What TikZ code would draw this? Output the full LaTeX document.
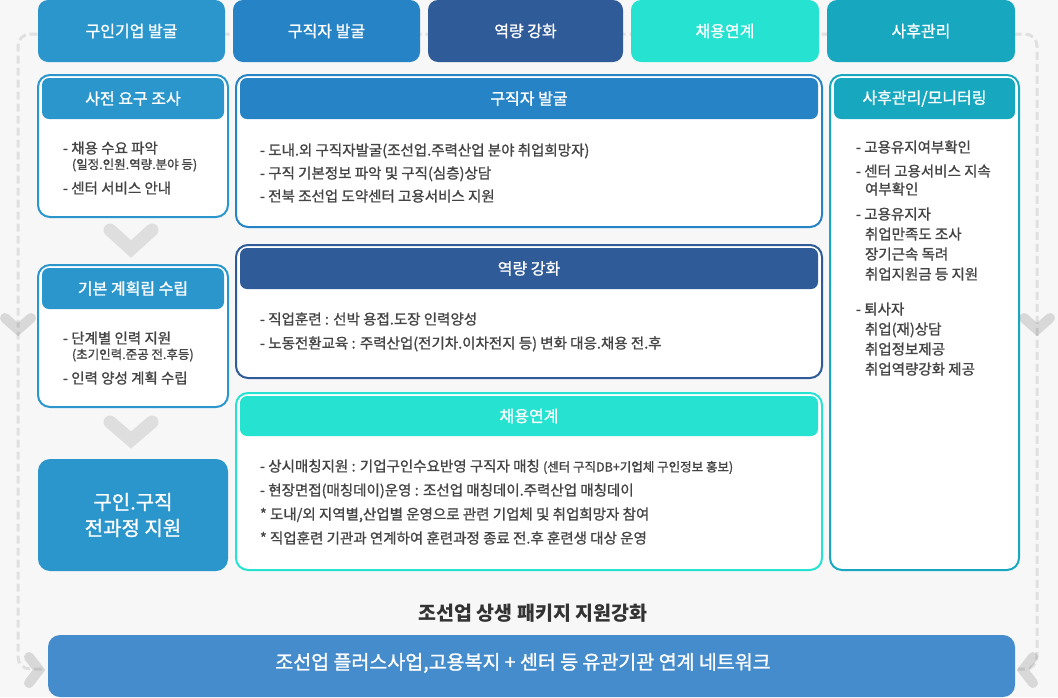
\documentclass[tikz,border=0pt]{standalone}
\usepackage{fontspec}
\setmainfont{Noto Sans CJK KR}
\newfontfamily\kr[FakeBold=1.2]{Noto Sans CJK KR}
\newfontfamily\krw{Noto Sans CJK KR}
\definecolor{cA}{HTML}{2A96CC}
\definecolor{cB}{HTML}{2683C6}
\definecolor{cC}{HTML}{2F5B98}
\definecolor{cD}{HTML}{26E2D0}
\definecolor{cE}{HTML}{17A8BF}
\definecolor{barblue}{HTML}{458CCC}
\definecolor{bgc}{HTML}{F7F7F7}
\definecolor{txtgray}{HTML}{444444}
\definecolor{ttl}{HTML}{333333}
\definecolor{chevgray}{HTML}{DEDEDE}
\tikzset{
  tophead/.style={fill=#1, rounded corners=10pt, inner sep=0pt, outer sep=0pt, text=white,
    font=\kr\fontsize{16}{19}\selectfont, minimum height=62pt},
  card/.style={draw=#1, line width=2pt, fill=white, rounded corners=12pt, inner sep=0pt, outer sep=0pt},
  cardhead/.style={fill=#1, rounded corners=7pt, inner sep=0pt, outer sep=0pt, text=white,
    font=\kr\fontsize{16}{19}\selectfont},
  ln/.style={anchor=west, inner sep=0pt, outer sep=0pt, text=txtgray,
    font=\kr\fontsize{14.5}{17}\selectfont, text height=11pt, text depth=0pt},
  subln/.style={ln, font=\kr\fontsize{12.5}{15}\selectfont, text height=10pt},
  chev/.style={draw=chevgray, line width=13pt, line cap=round, line join=miter},
  sidechev/.style={draw=black, draw opacity=0.12, line width=10pt, line cap=round, line join=miter},
  dashline/.style={draw=black, draw opacity=0.09, line width=3pt, dash pattern=on 8pt off 4pt, rounded corners=12pt},
}
\begin{document}
\begin{tikzpicture}[x=1pt,y=-1pt]
\useasboundingbox (0,0) rectangle (1058,697);
\fill[bgc] (0,0) rectangle (1058,697);

% dashed loop
\draw[dashline] (42,669) -- (18,669) -- (18,34) -- (1037,34) -- (1037,669) -- (1018,669);

% side chevrons
\draw[sidechev] (5,318) -- (18,329.5) -- (31,318);
\draw[sidechev] (1024,318) -- (1037,329.5) -- (1050,318);
\draw[sidechev] (29,657) -- (39,670) -- (29,683);
\draw[sidechev] (1033,657) -- (1023,670) -- (1033,683);

% top headers
\node[tophead=cA, minimum width=187pt] (h1) at (131.5,31) {구인기업 발굴};
\node[tophead=cB, minimum width=187pt] (h2) at (326.5,31) {구직자 발굴};
\node[tophead=cC, minimum width=195pt] (h3) at (525.5,31) {역량 강화};
\node[tophead=cD, minimum width=188pt] (h4) at (725,31) {채용연계};
\node[tophead=cE, minimum width=188pt] (h5) at (921,31) {사후관리};

% left column
\node[card=cA, minimum width=190pt, minimum height=142pt] (A) at (133,146) {};
\node[cardhead=cA, minimum width=182pt, minimum height=41pt] (Ah) at (133,98.5) {사전 요구 조사};
\node[ln] (A1) at (63,148) {- 채용 수요 파악};
\node[subln] (A2) at (72,164) {(일정.인원.역량.분야 등)};
\node[ln] (A3) at (63,188) {- 센터 서비스 안내};

\draw[chev] (110,230) -- (131,249) -- (152,230);

\node[card=cA, minimum width=190pt, minimum height=142pt] (B) at (133,336) {};
\node[cardhead=cA, minimum width=182pt, minimum height=41pt] (Bh) at (133,288.5) {기본 계획립 수립};
\node[ln] (B1) at (63,338) {- 단계별 인력 지원};
\node[subln] (B2) at (72,354) {(초기인력.준공 전.후등)};
\node[ln] (B3) at (63,378) {- 인력 양성 계획 수립};

\draw[chev] (110,422) -- (131,440) -- (152,422);

\node[fill=cA, rounded corners=12pt, minimum width=190pt, minimum height=112pt, inner sep=0pt,
  text=white, align=center, font=\kr\fontsize{20}{26}\selectfont] (C) at (133,515) {구인.구직\\전과정 지원};

% middle column
\node[card=cB, minimum width=586pt, minimum height=152pt] (M1) at (529,151) {};
\node[cardhead=cB, minimum width=578pt, minimum height=41pt] (M1h) at (529,98.5) {구직자 발굴};
\node[ln] (M1a) at (260,150) {- 도내.외 구직자발굴(조선업.주력산업 분야 취업희망자)};
\node[ln] (M1b) at (260,173) {- 구직 기본정보 파악 및 구직(심층)상담};
\node[ln] (M1c) at (260,196) {- 전북 조선업 도약센터 고용서비스 지원};

\node[card=cC, minimum width=586pt, minimum height=133pt] (M2) at (529,311.5) {};
\node[cardhead=cC, minimum width=578pt, minimum height=41pt] (M2h) at (529,268.5) {역량 강화};
\node[ln] (M2a) at (260,319) {- 직업훈련 : 선박 용접.도장 인력양성};
\node[ln] (M2b) at (260,343) {- 노동전환교육 : 주력산업(전기차.이차전지 등) 변화 대응.채용 전.후};

\node[card=cD, minimum width=586pt, minimum height=177pt] (M3) at (529,481.5) {};
\node[cardhead=cD, minimum width=578pt, minimum height=40pt] (M3h) at (529,416) {채용연계};
\node[ln] (M3a) at (260,466) {- 상시매칭지원 : 기업구인수요반영 구직자 매칭 {\fontsize{12.5}{15}\selectfont (센터 구직DB+기업체 구인정보 홍보)}};
\node[ln] (M3b) at (260,490) {- 현장면접(매칭데이)운영 : 조선업 매칭데이.주력산업 매칭데이};
\node[ln] (M3c) at (260,514) {* 도내/외 지역별,산업별 운영으로 관련 기업체 및 취업희망자 참여};
\node[ln] (M3d) at (260,538) {* 직업훈련 기관과 연계하여 훈련과정 종료 전.후 훈련생 대상 운영};

% right column
\node[card=cE, minimum width=189pt, minimum height=495pt] (R) at (924.5,322.5) {};
\node[cardhead=cE, minimum width=181pt, minimum height=41pt] (Rh) at (924.5,98.5) {사후관리/모니터링};
\node[ln] (R1) at (856,147) {- 고용유지여부확인};
\node[ln] (R2) at (856,171) {- 센터 고용서비스 지속};
\node[ln] (R3) at (865,189) {여부확인};
\node[ln] (R4) at (856,214) {- 고용유지자};
\node[ln] (R5) at (865,234) {취업만족도 조사};
\node[ln] (R6) at (865,254) {장기근속 독려};
\node[ln] (R7) at (865,274) {취업지원금 등 지원};
\node[ln] (R8) at (856,309) {- 퇴사자};
\node[ln] (R9) at (865,329) {취업(재)상담};
\node[ln] (R10) at (865,349) {취업정보제공};
\node[ln] (R11) at (865,369) {취업역량강화 제공};

% bottom
\node[inner sep=0pt, text=ttl, font=\krw\bfseries\fontsize{19.5}{23}\selectfont] (T) at (533,613) {조선업 상생 패키지 지원강화};
\node[fill=barblue, rounded corners=12pt, minimum width=967pt, minimum height=62pt, inner sep=0pt] (bar) at (531.5,666) {};
\node[inner sep=0pt, text=white, font=\kr\fontsize{19.5}{23}\selectfont] (bartxt) at (523,663) {조선업 플러스사업,고용복지 + 센터 등 유관기관 연계 네트워크};
\end{tikzpicture}
\end{document}
